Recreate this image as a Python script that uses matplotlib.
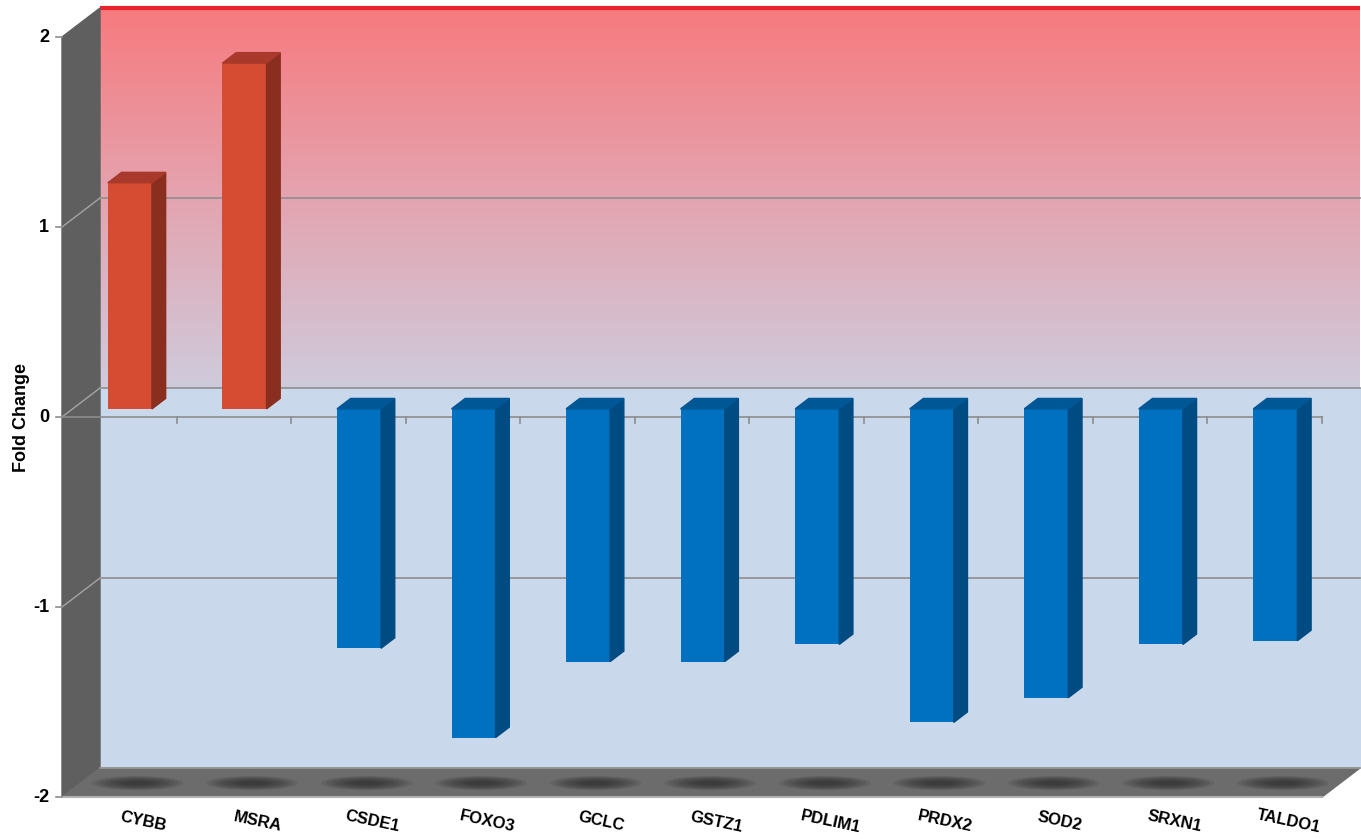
import numpy as np
import matplotlib.pyplot as plt
from matplotlib.patches import Polygon, Rectangle, Ellipse
from matplotlib.colors import to_rgb

# gene fold changes
genes = ['CYBB', 'MSRA', 'CSDE1', 'FOXO3', 'GCLC', 'GSTZ1',
         'PDLIM1', 'PRDX2', 'SOD2', 'SRXN1', 'TALDO1']
fold_change = [1.19, 1.82, -1.26, -1.73, -1.33, -1.33,
               -1.24, -1.65, -1.52, -1.24, -1.22]
y_ticks = [2, 1, 0, -1, -2]

up_colors = ('#d64c33', '#8a2e20', '#a9392a')      # front, side, top
down_colors = ('#0070c0', '#004b82', '#005796')

W, H = 1361, 839
fig = plt.figure(figsize=(W / 100, H / 100), dpi=100)
ax = fig.add_axes([62 / W, 42 / H, 1260 / W, 760 / H])
ax.set_xlim(0, len(genes))
ax.set_ylim(-2, 2)
ax.axis('off')

# pseudo-3d: depth 0 = front plane, depth 1 = back wall
DX = 38 / 114.5
DY = 29 / 190
n = len(genes)


def proj(x, y, d):
    return (x + d * DX, y + d * DY)


# back wall: gradient above zero, flat blue below
c_top = np.array(to_rgb('#f77a7e'))
c_mid = np.array(to_rgb('#e4a4b0'))
c_bot = np.array(to_rgb('#cfcbdc'))
t = np.linspace(0, 1, 256)[:, None]
grad = np.where(t < 0.5, c_bot + (c_mid - c_bot) * (t / 0.5),
                c_mid + (c_top - c_mid) * ((t - 0.5) / 0.5))
ax.imshow(grad[:, None, :], extent=[DX, n + DX, DY, 2 + DY], origin='lower',
          aspect='auto', zorder=0, clip_on=False)
ax.add_patch(Rectangle((DX, -2 + DY), n, 2, color='#c9d9eb', zorder=0,
                       clip_on=False))
ax.plot([DX, n + DX], [2 + DY, 2 + DY], color='#e8232b', lw=3, zorder=1,
        clip_on=False, solid_capstyle='butt')

# left wall
ax.add_patch(Polygon([proj(0, -2, 0), proj(0, 2, 0), proj(0, 2, 1),
                      proj(0, -2, 1)], closed=True, color='#5f5f5f',
                     zorder=1, clip_on=False))

# floor with soft shadows
ax.add_patch(Polygon([proj(0, -2, 0), proj(n, -2, 0), proj(n, -2, 1),
                      proj(0, -2, 1)], closed=True, color='#6c6c6c',
                     zorder=1, clip_on=False))
for i in range(n):
    cx, cy = proj(i + 0.5, -2, 0.48)
    for k in range(8):
        s = 1 - k * 0.1
        ax.add_patch(Ellipse((cx, cy), 0.8 * s, 0.075 * s, color='#262626',
                             alpha=0.12, lw=0, zorder=1.5, clip_on=False))
ax.plot([0, n], [-2, -2], color='#b0b0b0', lw=1.5, zorder=2, clip_on=False)
ax.plot([proj(0, -2, 1)[0], proj(n, -2, 1)[0]], [-2 + DY, -2 + DY],
        color='#9a9a9a', lw=1.2, zorder=2, clip_on=False)

# gridlines on back and side walls
for y in [-1, 0, 1]:
    x0, y0 = proj(0, y, 1)
    ax.plot([x0, n + DX], [y0, y0], color='#8e8e8e', lw=1.2, zorder=2,
            clip_on=False)
    ax.plot([0, DX], [y, y + DY], color='#a5a5a5', lw=1, zorder=2,
            clip_on=False)

# category axis at zero with ticks
ax.plot([0, n], [0, 0], color='#8c8c8c', lw=1.2, zorder=3, clip_on=False)
for i in range(1, n + 1):
    ax.plot([i, i], [0, -6 / 190], color='#8c8c8c', lw=1.2, zorder=3,
            clip_on=False)

# value axis ticks and labels
for y in y_ticks:
    ax.plot([-6 / 114.5, 0], [y, y], color='#8c8c8c', lw=1.2, zorder=3,
            clip_on=False)
    ax.text(-13 / 114.5, y, str(y), ha='right', va='center', fontsize=13,
            fontweight='bold', family='Liberation Sans', color='black')
ax.text(-40 / 114.5, 0, 'Fold Change', rotation=90, ha='center',
        va='center', fontsize=13, fontweight='bold',
        family='Liberation Sans')

# bars: front face via ax.bar, side and top faces as polygons
width = 0.385
d_front, d_back = 0.28, 0.64
for i, v in enumerate(fold_change):
    front, side, top = up_colors if v > 0 else down_colors
    xc = i + 0.5
    xf, yf = proj(xc, 0, d_front)
    ax.bar(xf, v, width=width, bottom=yf, color=front, zorder=5)
    xl, xr = xc - width / 2, xc + width / 2
    ax.add_patch(Polygon([proj(xr, 0, d_front), proj(xr, v, d_front),
                          proj(xr, v, d_back), proj(xr, 0, d_back)],
                         closed=True, color=side, zorder=5))
    yt = max(v, 0)
    ax.add_patch(Polygon([proj(xl, yt, d_front), proj(xr, yt, d_front),
                          proj(xr, yt, d_back), proj(xl, yt, d_back)],
                         closed=True, color=top, zorder=5))

# gene labels
for i, g in enumerate(genes):
    ax.text(i + 0.5 + 0.21, -2.13, g, rotation=-12, ha='center', va='center',
            rotation_mode='anchor', fontsize=12, fontweight='bold',
            family='Liberation Sans', color='black')

fig.savefig('out.png', dpi=100)
